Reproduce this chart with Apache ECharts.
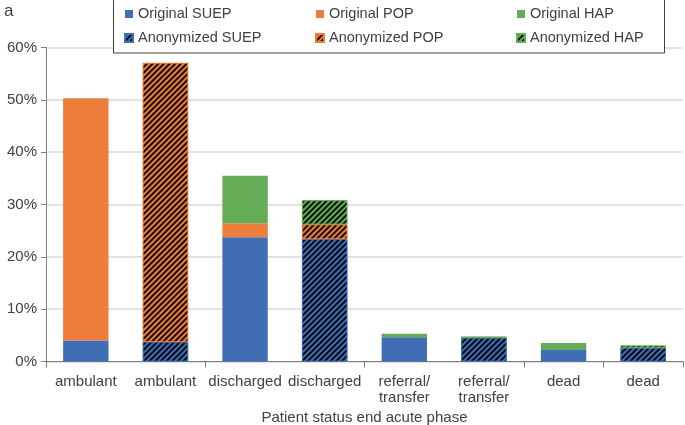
<!DOCTYPE html>
<html>
<head>
<meta charset="utf-8">
<script src="https://cdn.jsdelivr.net/npm/echarts@6/dist/echarts.min.js"></script>
<style>html,body{margin:0;padding:0;background:#fff;}#c{width:685px;height:425px;}</style>
</head>
<body>
<div id="c"></div>
<script>
var categories = ['ambulant','ambulant','discharged','discharged','referral/\ntransfer','referral/\ntransfer','dead','dead'];
var yTicks = [0, 10, 20, 30, 40, 50, 60];
// per status group: ambulant, discharged, referral/transfer, dead
var origSUEP = [4.0, 23.75, 4.65, 2.2];
var origPOP  = [46.3, 2.65, 0, 0];
var origHAP  = [0, 9.1, 0.65, 1.35];
var anonSUEP = [3.75, 23.4, 4.5, 2.6];
var anonPOP  = [53.3, 2.8, 0, 0];
var anonHAP  = [0, 4.6, 0.25, 0.45];

var BLUE = '#3F6EB5', ORANGE = '#ED7D3A', GREEN = '#64AD56';

function spread(vals, offset) {
  var out = [];
  for (var i = 0; i < categories.length; i++) out.push('-');
  vals.forEach(function (v, k) { out[k * 2 + offset] = (v === 0 ? '-' : v); });
  return out;
}
var hatch = {
  symbol: 'rect', symbolSize: 1, dashArrayX: [1, 0], dashArrayY: [1.5, 1.4],
  rotation: -Math.PI / 4, color: 'rgba(0,0,0,0.9)'
};
function ser(name, vals, offset, color, decal) {
  var s = {
    name: name, type: 'bar', stack: 'all', barWidth: '57%',
    data: spread(vals, offset),
    itemStyle: { color: color }
  };
  if (decal) {
    s.itemStyle.decal = hatch;
    s.itemStyle.borderColor = color;
    s.itemStyle.borderWidth = 0.8;
  }
  return s;
}

var chart = echarts.init(document.getElementById('c'), null, { renderer: 'canvas' });
var legendCommon = {
  orient: 'vertical', top: 1, icon: 'rect', itemWidth: 8, itemHeight: 8, itemGap: 8,
  textStyle: { fontFamily: 'Liberation Sans', fontSize: 14.5, color: '#404040', lineHeight: 16 },
  selectedMode: false
};
chart.setOption({
  animation: false,
  aria: { enabled: false, decal: { show: false } },
  graphic: [
    { type: 'rect', shape: { x: 113.5, y: -1, width: 551, height: 54 }, style: { fill: '#fff', stroke: '#404040', lineWidth: 1 }, z: 10 },
    { type: 'text', left: 4, top: 3, style: { text: 'a', font: '17px Liberation Sans', fill: '#404040' }, z: 10 }
  ],
  legend: [
    Object.assign({ left: 119, data: ['Original SUEP', 'Anonymized SUEP'], z: 20 }, legendCommon),
    Object.assign({ left: 310, data: ['Original POP', 'Anonymized POP'], z: 20 }, legendCommon),
    Object.assign({ left: 511, data: ['Original HAP', 'Anonymized HAP'], z: 20 }, legendCommon)
  ],
  grid: { left: 46, right: 2, top: 47.5, bottom: 63.5, containLabel: false, outerBoundsMode: 'none' },
  xAxis: {
    type: 'category', data: categories,
    name: 'Patient status end acute phase', nameLocation: 'middle', nameGap: 41,
    nameTextStyle: { fontFamily: 'Liberation Sans', fontSize: 15, color: '#404040' },
    axisLine: { lineStyle: { color: '#7F7F7F', width: 1 } },
    axisTick: { show: true, interval: 1, length: 6, inside: false, lineStyle: { color: '#7F7F7F' } },
    axisLabel: { interval: 0, fontFamily: 'Liberation Sans', fontSize: 15, color: '#404040', margin: 12, lineHeight: 16 }
  },
  yAxis: {
    type: 'value', min: yTicks[0], max: yTicks[yTicks.length - 1], interval: 10,
    axisLine: { show: true, lineStyle: { color: '#7F7F7F' } },
    axisTick: { show: true, length: 5, lineStyle: { color: '#7F7F7F' } },
    axisLabel: { formatter: '{value}%', fontFamily: 'Liberation Sans', fontSize: 15, color: '#404040', margin: 9 },
    splitLine: { lineStyle: { color: '#D9D9D9', width: 1.5 } }
  },
  series: [
    ser('Original SUEP', origSUEP, 0, BLUE, false),
    ser('Original POP', origPOP, 0, ORANGE, false),
    ser('Original HAP', origHAP, 0, GREEN, false),
    ser('Anonymized SUEP', anonSUEP, 1, BLUE, true),
    ser('Anonymized POP', anonPOP, 1, ORANGE, true),
    ser('Anonymized HAP', anonHAP, 1, GREEN, true)
  ]
});
</script>
</body>
</html>
